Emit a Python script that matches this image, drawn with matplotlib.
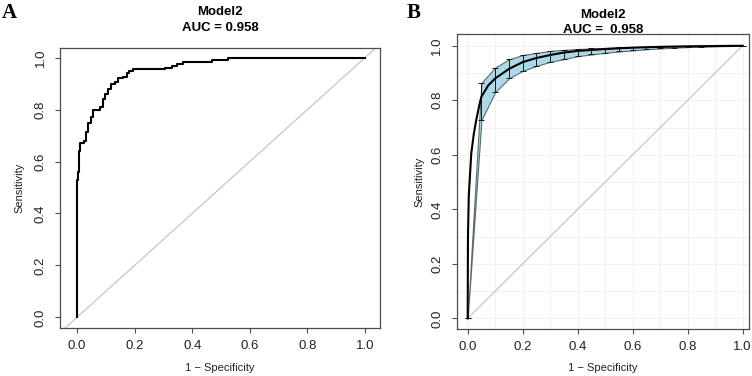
"""
ROC curves for Model2: empirical (A) and smoothed with CI band (B)
"""
import numpy as np
import matplotlib
matplotlib.use("Agg")
import matplotlib.pyplot as plt

plt.rcParams["font.family"] = ["Liberation Sans", "DejaVu Sans"]

title_name = "Model2"
auc_text = "0.958"

# panel A: empirical ROC steps (1 - specificity, sensitivity)
fpr_a = [0.000, 0.000, 0.003, 0.006, 0.010, 0.023, 0.030, 0.038, 0.047, 0.056,
         0.081, 0.090, 0.098, 0.106, 0.119, 0.132, 0.144, 0.161, 0.173, 0.182,
         0.196, 0.306, 0.329, 0.346, 0.369, 0.468, 0.525, 0.564, 1.000]
tpr_a = [0.000, 0.530, 0.560, 0.640, 0.670, 0.680, 0.715, 0.750, 0.770, 0.800,
         0.810, 0.840, 0.860, 0.880, 0.900, 0.906, 0.920, 0.926, 0.940, 0.950,
         0.955, 0.959, 0.968, 0.975, 0.984, 0.991, 0.997, 1.000, 1.000]

# panel B: smoothed ROC
fpr_b = [0, 0.001, 0.004, 0.013, 0.022, 0.031, 0.044, 0.05, 0.075, 0.10, 0.15,
         0.20, 0.25, 0.30, 0.35, 0.40, 0.50, 0.60, 0.70, 0.80, 0.90, 1.0]
tpr_b = [0, 0.30, 0.45, 0.605, 0.675, 0.727, 0.79, 0.813, 0.855, 0.88, 0.915,
         0.94, 0.955, 0.966, 0.975, 0.981, 0.988, 0.993, 0.996, 0.998, 0.999, 1.0]

# panel B: CI of sensitivity at fixed 1 - specificity
ci_fpr = [0.00, 0.05, 0.10, 0.15, 0.20, 0.25, 0.30, 0.35, 0.40, 0.45, 0.50,
          0.55, 0.60, 0.65, 0.70, 0.75, 0.80, 0.85, 0.90, 0.95, 1.00]
ci_low = [0.000, 0.727, 0.830, 0.880, 0.908, 0.926, 0.941, 0.951, 0.962, 0.968,
          0.974, 0.979, 0.983, 0.987, 0.990, 0.993, 0.995, 0.997, 0.998, 0.999, 1.000]
ci_high = [0.000, 0.864, 0.920, 0.950, 0.966, 0.974, 0.981, 0.985, 0.988, 0.990,
           0.992, 0.994, 0.995, 0.996, 0.997, 0.998, 0.998, 0.999, 0.999, 1.000, 1.000]

ticks = [0.0, 0.2, 0.4, 0.6, 0.8, 1.0]
tick_labels = ["0.0", "0.2", "0.4", "0.6", "0.8", "1.0"]

fig = plt.figure(figsize=(7.52, 3.76), dpi=100)
ax1 = fig.add_axes([0.0798, 0.1277, 0.4255, 0.7446])
ax2 = fig.add_axes([0.6073, 0.125, 0.3883, 0.7838])

spine_col = "#4d4d4d"


def style(ax, xlim, ylim):
    ax.set_xlim(*xlim)
    ax.set_ylim(*ylim)
    ax.set_xticks(ticks)
    ax.set_xticklabels(tick_labels)
    ax.set_yticks(ticks)
    ax.set_yticklabels(tick_labels, rotation=90, va="center")
    ax.tick_params(direction="out", length=3.6, width=0.8, colors=spine_col,
                   labelcolor="#222222", labelsize=9.5)
    ax.tick_params(axis="x", pad=5)
    ax.tick_params(axis="y", pad=6)
    for s in ax.spines.values():
        s.set_color(spine_col)
        s.set_linewidth(0.9)
    ax.set_xlabel("1 \u2212 Specificity", fontsize=8, color="#222222")
    ax.set_ylabel("Sensitivity", fontsize=8, color="#222222")


# ---- A ----
style(ax1, (-0.059, 1.052), (-0.041, 1.037))
ax1.axline((0, 0), (1, 1), color="#c0c0c0", lw=0.8, zorder=1)
ax1.plot(fpr_a, tpr_a, drawstyle="steps-post", color="black", lw=1.5, zorder=3)
ax1.xaxis.set_label_coords(0.5, -0.125)
ax1.yaxis.set_label_coords(-0.11, 0.5)

# ---- B ----
style(ax2, (-0.04, 1.022), (-0.039, 1.042))
grid = np.arange(0, 1.01, 0.1)
for g in grid:
    ax2.axvline(g, color="#efefef", lw=0.6, zorder=0)
    ax2.axhline(g, color="#efefef", lw=0.6, zorder=0)
ax2.plot([0, 1], [0, 1], color="#c0c0c0", lw=0.8, zorder=1)
ax2.fill_between(ci_fpr, ci_low, ci_high, facecolor="#add8e6",
                 edgecolor="#5a6a70", lw=0.8, zorder=2)
low = np.array(ci_low)
high = np.array(ci_high)
ax2.errorbar(ci_fpr, low, yerr=[np.zeros_like(low), high - low], fmt="none",
             ecolor="#1a1a1a", elinewidth=0.7, capsize=2.5, capthick=0.7, zorder=3)
ax2.plot(fpr_b, tpr_b, color="black", lw=1.5, zorder=4)
ax2.xaxis.set_label_coords(0.5, -0.115)
ax2.yaxis.set_label_coords(-0.11, 0.5)

# titles
fig.text(0.2926, 0.968, title_name, ha="center", va="center", fontsize=9.5, fontweight="bold")
fig.text(0.2926, 0.926, "AUC = " + auc_text, ha="center", va="center", fontsize=9.5, fontweight="bold")
fig.text(0.8015, 0.960, title_name, ha="center", va="center", fontsize=9.5, fontweight="bold")
fig.text(0.8015, 0.920, "AUC =  " + auc_text, ha="center", va="center", fontsize=9.5, fontweight="bold")

# panel letters
fig.text(0.003, 0.965, "A", ha="left", va="center", fontsize=15, fontweight="bold",
         family=["Liberation Serif", "DejaVu Serif"])
fig.text(0.541, 0.965, "B", ha="left", va="center", fontsize=15, fontweight="bold",
         family=["Liberation Serif", "DejaVu Serif"])

fig.savefig("out.png", dpi=100)
